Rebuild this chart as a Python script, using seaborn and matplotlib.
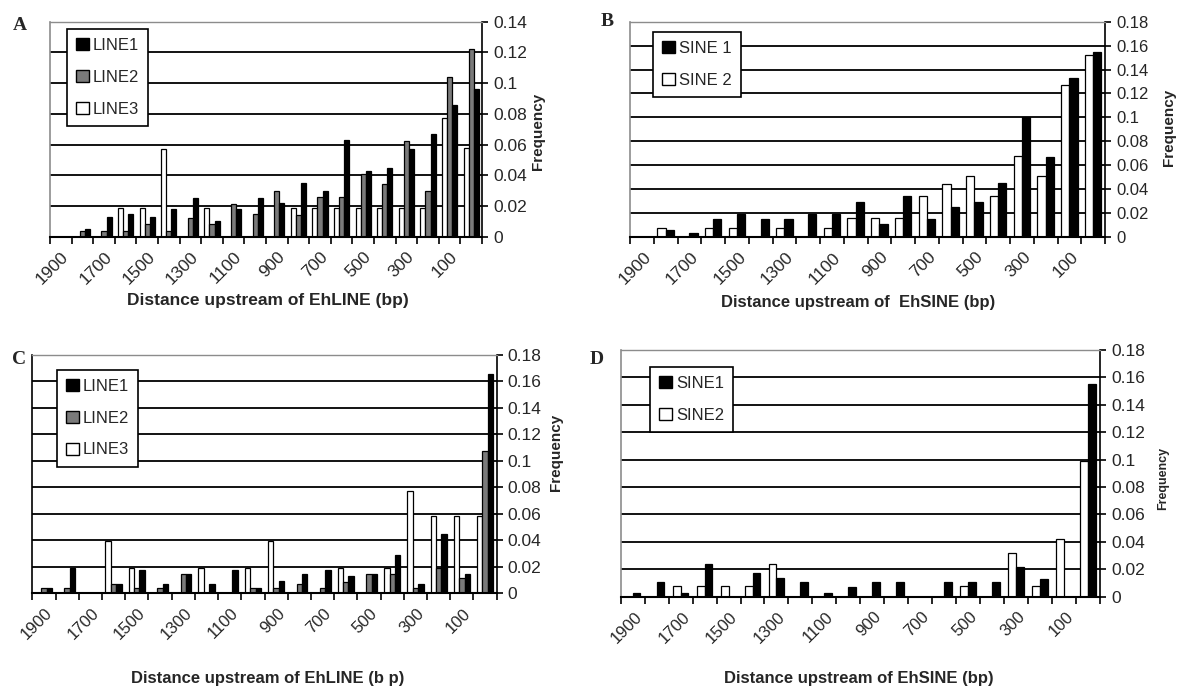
import numpy as np
import pandas as pd
import matplotlib
matplotlib.use("Agg")
import matplotlib.pyplot as plt
import seaborn as sns
from matplotlib.patches import Patch

# ---------------- data ----------------
categories = ['1900', '1800', '1700', '1600', '1500', '1400', '1300', '1200', '1100', '1000',
              '900', '800', '700', '600', '500', '400', '300', '200', '100', '0']
tick_labels = ['1900', '1700', '1500', '1300', '1100', '900', '700', '500', '300', '100']

A_line1 = [0, 0.005, 0.013, 0.015, 0.013, 0.018, 0.025, 0.010, 0.018, 0.025,
           0.022, 0.035, 0.030, 0.063, 0.043, 0.045, 0.057, 0.067, 0.086, 0.096]
A_line2 = [0, 0.004, 0.004, 0.004, 0.008, 0.004, 0.012, 0.008, 0.021, 0.015,
           0.030, 0.014, 0.026, 0.026, 0.041, 0.034, 0.062, 0.030, 0.104, 0.122]
A_line3 = [0, 0, 0, 0.019, 0.019, 0.057, 0, 0.019, 0, 0,
           0, 0.019, 0.019, 0.019, 0.019, 0.019, 0.019, 0.019, 0.077, 0.058]

B_sine1 = [0, 0.006, 0.003, 0.015, 0.019, 0.015, 0.015, 0.019, 0.019, 0.029,
           0.011, 0.034, 0.015, 0.025, 0.029, 0.045, 0.100, 0.067, 0.133, 0.155]
B_sine2 = [0, 0.0075, 0, 0.0075, 0.0075, 0, 0.0075, 0, 0.0075, 0.016,
           0.016, 0.016, 0.034, 0.044, 0.051, 0.034, 0.068, 0.051, 0.127, 0.152]

C_line1 = [0.0035, 0.019, 0, 0.007, 0.0175, 0.007, 0.014, 0.007, 0.0175, 0.0035,
           0.009, 0.014, 0.0175, 0.0125, 0.014, 0.029, 0.007, 0.045, 0.014, 0.166]
C_line2 = [0.0035, 0.0035, 0, 0.007, 0.0035, 0.0035, 0.014, 0, 0, 0.0035,
           0.0035, 0.007, 0.0035, 0.008, 0.014, 0.014, 0.0035, 0.019, 0.011, 0.1075]
C_line3 = [0, 0, 0, 0.039, 0.019, 0, 0, 0.019, 0, 0.019,
           0.039, 0, 0, 0.019, 0, 0.019, 0.077, 0.058, 0.058, 0.058]

D_sine1 = [0.003, 0.011, 0.003, 0.024, 0, 0.0175, 0.0135, 0.011, 0.003, 0.007,
           0.011, 0.011, 0, 0.011, 0.011, 0.011, 0.022, 0.013, 0, 0.155]
D_sine2 = [0, 0, 0.0075, 0.0075, 0.0075, 0.0075, 0.024, 0, 0, 0,
           0, 0, 0, 0, 0.0075, 0, 0.032, 0.0075, 0.042, 0.099]

yt_14 = [0, 0.02, 0.04, 0.06, 0.08, 0.1, 0.12, 0.14]
yl_14 = ['0', '0.02', '0.04', '0.06', '0.08', '0.1', '0.12', '0.14']
yt_18 = [0, 0.02, 0.04, 0.06, 0.08, 0.1, 0.12, 0.14, 0.16, 0.18]
yl_18 = ['0', '0.02', '0.04', '0.06', '0.08', '0.1', '0.12', '0.14', '0.16', '0.18']

BLACK, GRAY, WHITE = '#000000', '#7a7a7a', '#ffffff'

# ---------------- style ----------------
sns.set_theme(style="white")
plt.rcParams['font.family'] = ['Liberation Sans', 'DejaVu Sans']
SANS = ['Liberation Sans', 'DejaVu Sans']
SERIF = ['Liberation Serif', 'DejaVu Serif']

W, H = 1178, 691
fig = plt.figure(figsize=(W / 100, H / 100), dpi=100)


def fbox(l, t, r, b):
    return [l / W, 1 - b / H, (r - l) / W, (b - t) / H]


def panel(rect, series, names, colors, yt, yl, bar_width, leg_xy, xlabel,
          ylab_xy, ylab_size, ytick_size, left_col, letter, letter_xy,
          xlab_xy, xlab_size, xtick_size, leg_size):
    ax = fig.add_axes(fbox(*rect))
    df = pd.DataFrame({
        'cat': np.tile(categories, len(names)),
        'series': np.repeat(names, len(categories)),
        'val': np.concatenate([np.asarray(s, dtype=float) for s in series]),
    })
    order_draw = names[::-1]
    pal = dict(zip(names, colors))
    sns.barplot(data=df, x='cat', y='val', hue='series', order=categories,
                hue_order=order_draw, palette=pal, width=bar_width, gap=0,
                edgecolor='black', linewidth=0.9, legend=False, ax=ax,
                errorbar=None, saturation=1)
    ax.set_xlim(-0.5, len(categories) - 0.5)
    ax.set_ylim(yt[0], yt[-1])
    ax.set_axisbelow(True)
    for v in yt[1:-1]:
        ax.axhline(v, color='black', lw=1.3, zorder=0)
    ax.spines['top'].set_color('#8c8c8c')
    ax.spines['top'].set_linewidth(1.0)
    ax.spines['left'].set_color(left_col)
    ax.spines['left'].set_linewidth(1.2)
    ax.spines['right'].set_color('black')
    ax.spines['right'].set_linewidth(1.2)
    ax.spines['bottom'].set_color('black')
    ax.spines['bottom'].set_linewidth(1.5)
    xt = np.arange(-0.5, len(categories), 1.0)
    labs = [''] * len(xt)
    for j, t in enumerate(tick_labels):
        labs[1 + 2 * j] = t
    ax.set_xticks(xt)
    ax.set_xticklabels(labs, rotation=45, ha='right', fontsize=xtick_size)
    ax.tick_params(axis='x', direction='out', length=5, width=1.2, color='black',
                   bottom=True, pad=4)
    ax.yaxis.tick_right()
    ax.set_yticks(yt)
    ax.set_yticklabels(yl, fontsize=ytick_size, family=SANS)
    ax.tick_params(axis='y', direction='out', length=4, width=1.2, color='black',
                   right=True, left=False, pad=4)
    ax.set_xlabel(xlabel, fontsize=xlab_size, fontweight='bold')
    ax.xaxis.set_label_coords((xlab_xy[0] - rect[0]) / (rect[2] - rect[0]),
                              (rect[3] - xlab_xy[1]) / (rect[3] - rect[1]))
    ax.xaxis.label.set_va('center')
    ax.set_ylabel('Frequency', fontsize=ylab_size, fontweight='bold')
    ax.yaxis.set_label_position('right')
    ax.yaxis.set_label_coords((ylab_xy[0] - rect[0]) / (rect[2] - rect[0]),
                              (rect[3] - ylab_xy[1]) / (rect[3] - rect[1]))
    ax.yaxis.label.set_va('center')
    ax.yaxis.label.set_rotation(90)
    handles = [Patch(facecolor=c, edgecolor='black', linewidth=1.0, label=n)
               for n, c in zip(names, colors)]
    leg = ax.legend(handles=handles, loc='upper left',
                    bbox_to_anchor=(leg_xy[0] / W, 1 - leg_xy[1] / H),
                    bbox_transform=fig.transFigure, frameon=True, fancybox=False,
                    edgecolor='black', framealpha=1, borderaxespad=0,
                    handlelength=0.75, handleheight=0.75, handletextpad=0.25,
                    labelspacing=1.0, borderpad=0.55, fontsize=leg_size)
    leg.get_frame().set_linewidth(1.2)
    fig.text(letter_xy[0] / W, 1 - letter_xy[1] / H, letter, family=SERIF,
             fontweight='bold', fontsize=14, ha='center', va='center')
    return ax


panel((50, 21.7, 482, 236.7), [A_line1, A_line2, A_line3], ['LINE1', 'LINE2', 'LINE3'],
      [BLACK, GRAY, WHITE], yt_14, yl_14, 0.7, (67, 29),
      'Distance upstream of EhLINE (bp)', (538, 131), 11,
      12.5, '#8c8c8c', 'A', (20, 25), (268, 301), 12.5, 12.5, 12)

panel((630, 21.7, 1105, 237), [B_sine1, B_sine2], ['SINE 1', 'SINE 2'],
      [BLACK, WHITE], yt_18, yl_18, 0.7, (653, 32),
      'Distance upstream of  EhSINE (bp)', (1169, 127), 11,
      12, '#8c8c8c', 'B', (607, 22), (858, 302), 12, 12.5, 12)

panel((32.3, 355, 496.7, 593), [C_line1, C_line2, C_line3], ['LINE1', 'LINE2', 'LINE3'],
      [BLACK, GRAY, WHITE], yt_18, yl_18, 0.7, (57, 370),
      'Distance upstream of EhLINE (b p)', (556, 452), 11,
      12.5, '#000000', 'C', (19, 359), (268, 679), 12, 12, 12)

panel((620.7, 350, 1100, 596.7), [D_sine1, D_sine2], ['SINE1', 'SINE2'],
      [BLACK, WHITE], yt_18, yl_18, 0.65, (650, 367),
      'Distance upstream of EhSINE (bp)', (1163, 478), 9,
      12.5, '#8c8c8c', 'D', (597, 359), (859, 679), 12, 12, 12)

fig.savefig('out.png', dpi=100, facecolor='white')
